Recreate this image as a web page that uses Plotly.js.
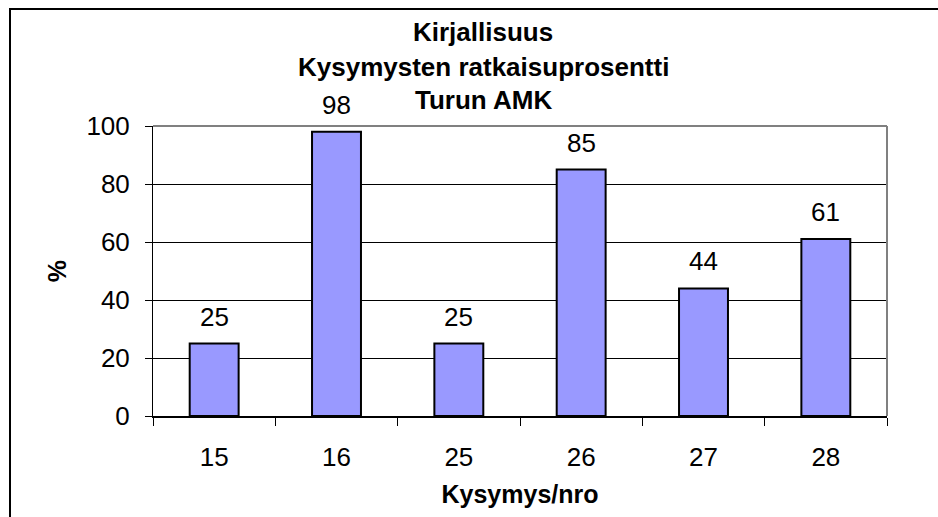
<!DOCTYPE html>
<html><head><meta charset="utf-8">
<script src="https://cdn.plot.ly/plotly-3.0.1.min.js"></script>
<style>html,body{margin:0;padding:0;background:#fff}#chart{width:938px;height:517px}</style>
</head><body><div id="chart"></div>
<script>
const categories = ['15', '16', '25', '26', '27', '28'];
const values = [25, 98, 25, 85, 44, 61];
const titleLines = ['Kirjallisuus', 'Kysymysten ratkaisuprosentti', 'Turun AMK'];
const xTitle = 'Kysymys/nro';
const yTitle = '%';
const yTickVals = [0, 20, 40, 60, 80, 100];

const FONT = 'Liberation Sans, Arial, sans-serif';
const L = 153, R = 887, T = 126, B = 416, W = 938, H = 517;
const px2x = px => (px - L) / (R - L);
const py2y = py => (B - py) / (B - T);

const trace = {
  type: 'bar', x: categories, y: values,
  marker: {color: '#9999FF', line: {color: '#000', width: 2}},
  hoverinfo: 'none'
};

const titleY = [32, 67, 100];
const annotations = titleLines.map((t, i) => ({
  text: t, xref: 'paper', yref: 'paper', x: px2x(483), y: py2y(titleY[i]),
  xanchor: 'center', yanchor: 'middle', showarrow: false,
  font: {family: FONT, size: 26, color: '#000', weight: 'bold'}
}));
values.forEach((v, i) => annotations.push({
  text: String(v), x: i, y: v, xref: 'x', yref: 'y',
  xanchor: 'center', yanchor: 'bottom', yshift: 10, showarrow: false,
  font: {family: FONT, size: 26, color: '#000'}
}));

const shapes = [
  {type: 'line', xref: 'paper', yref: 'paper', x0: 0, x1: 1, y0: 1, y1: 1, line: {color: '#808080', width: 2}, layer: 'above'},
  {type: 'line', xref: 'paper', yref: 'paper', x0: 1, x1: 1, y0: 0, y1: 1, line: {color: '#808080', width: 2}, layer: 'above'},
  {type: 'rect', xref: 'paper', yref: 'paper', x0: px2x(10), x1: px2x(1000), y0: py2y(600), y1: py2y(9),
   line: {color: '#000', width: 2}, fillcolor: 'rgba(0,0,0,0)', layer: 'below'}
];

const layout = {
  width: W, height: H,
  margin: {l: L, r: W - R, t: T, b: H - B, pad: 0},
  paper_bgcolor: '#fff', plot_bgcolor: '#fff',
  showlegend: false, bargap: 0.6,
  font: {family: FONT, color: '#000'},
  xaxis: {
    type: 'category', range: [-0.5, categories.length - 0.5], autorange: false,
    tickson: 'boundaries', ticks: 'outside', ticklen: 8, tickcolor: '#000', tickwidth: 1, tickangle: 0,
    showline: true, linecolor: '#000', linewidth: 2, showgrid: false, zeroline: false,
    tickfont: {family: FONT, size: 26, color: '#000'}, ticklabelstandoff: 17,
    title: {text: xTitle, font: {family: FONT, size: 25, color: '#000', weight: 'bold'}, standoff: 14}
  },
  yaxis: {
    range: [0, 100], autorange: false, tickvals: yTickVals, ticktext: yTickVals.map(String),
    ticks: 'outside', ticklen: 7, tickcolor: '#000', tickwidth: 1,
    showline: true, linecolor: '#000', linewidth: 1, showgrid: true, gridcolor: '#000', gridwidth: 1, zeroline: false,
    tickfont: {family: FONT, size: 26, color: '#000'}, ticklabelstandoff: 10,
    title: {text: yTitle, font: {family: FONT, size: 25, color: '#000', weight: 'bold'}, standoff: 12}
  },
  yaxis2: {
    overlaying: 'y', side: 'left', range: [0, 100], autorange: false, tickvals: yTickVals,
    ticks: 'inside', ticklen: 3, tickcolor: '#000', tickwidth: 1,
    showticklabels: false, showgrid: false, zeroline: false, showline: false
  },
  annotations: annotations,
  shapes: shapes
};

const ghost = {type: 'scatter', x: [categories[0]], y: [0], yaxis: 'y2', mode: 'markers',
  marker: {opacity: 0}, hoverinfo: 'none', showlegend: false};

Plotly.newPlot('chart', [trace, ghost], layout, {displayModeBar: false, staticPlot: true});
</script>
</body></html>
